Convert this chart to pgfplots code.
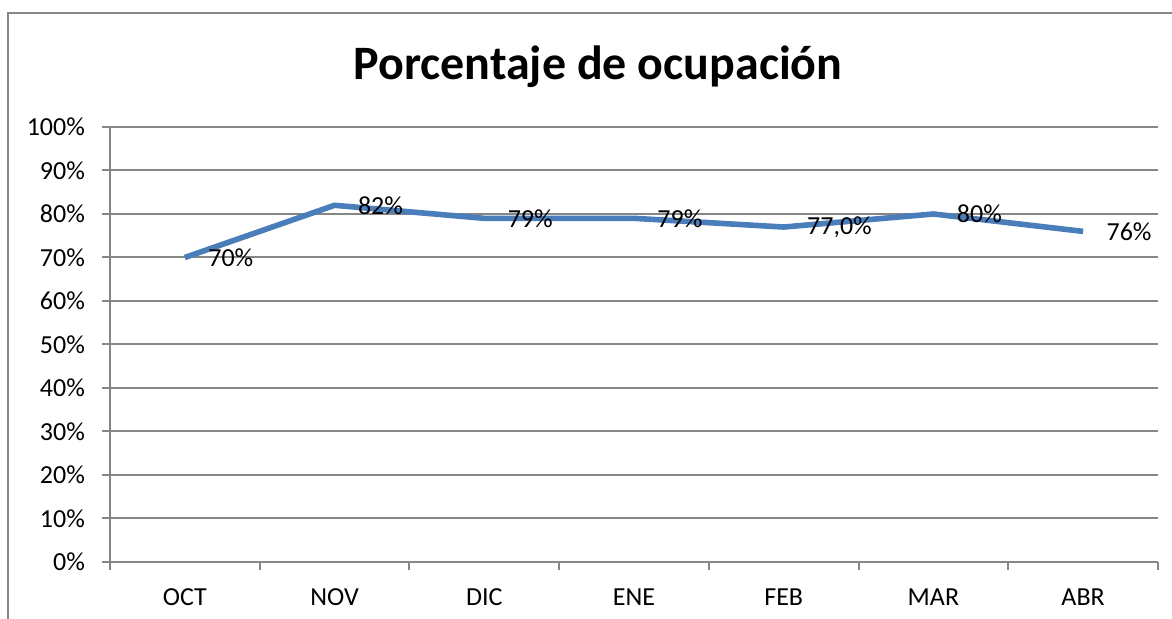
\documentclass[border=0pt]{standalone}
\usepackage{fontspec}
\setmainfont{Carlito}
\usepackage{pgfplots}
\pgfplotsset{compat=1.18}
\definecolor{linec}{HTML}{4A7EBB}
\definecolor{gridc}{HTML}{868686}
\begin{document}
\begin{tikzpicture}
\path[use as bounding box] (0pt,0pt) rectangle (586pt,309.5pt);
\draw[gridc, line width=0.9pt] (4pt,-5pt) -- (4pt,303pt) -- (600pt,303pt);
\node[font=\fontsize{24}{24}\selectfont\bfseries] at (299pt,276pt) {Porcentaje de ocupación};
\begin{axis}[
  at={(55pt,28.5pt)}, anchor=south west,
  width=524pt, height=217.5pt, scale only axis,
  xmin=-0.5, xmax=6.5, ymin=0, ymax=1,
  xtick={0,1,2,3,4,5,6},
  xticklabels={OCT,NOV,DIC,ENE,FEB,MAR,ABR},
  minor xtick={-0.5,0.5,1.5,2.5,3.5,4.5,5.5,6.5},
  major x tick style={draw=none},
  ytick={0,0.1,0.2,0.3,0.4,0.5,0.6,0.7,0.8,0.9,1},
  yticklabels={0\%,10\%,20\%,30\%,40\%,50\%,60\%,70\%,80\%,90\%,100\%},
  tick align=outside,
  axis lines*=left,
  ymajorgrids,
  grid style={gridc, line width=1pt},
  axis line style={gridc, line width=1pt},
  tick style={gridc, line width=1pt},
  major tick length=4pt, minor tick length=4pt,
  ticklabel style={font=\fontsize{13}{13}\selectfont, text=black},
  xticklabel style={yshift=-6pt},
  yticklabel style={xshift=-5pt},
  clip=false,
  nodes near coords,
  point meta=explicit symbolic,
  nodes near coords style={anchor=west, xshift=7pt, font=\fontsize{13}{13}\selectfont, text=black},
]
\addplot[linec, line width=2.8pt, line join=round, mark=none] coordinates {
  (0,0.70) [70\%]
  (1,0.82) [82\%]
  (2,0.79) [79\%]
  (3,0.79) [79\%]
  (4,0.77) [77{,}0\%]
  (5,0.80) [80\%]
  (6,0.76) [76\%]
};
\end{axis}
\end{tikzpicture}
\end{document}
